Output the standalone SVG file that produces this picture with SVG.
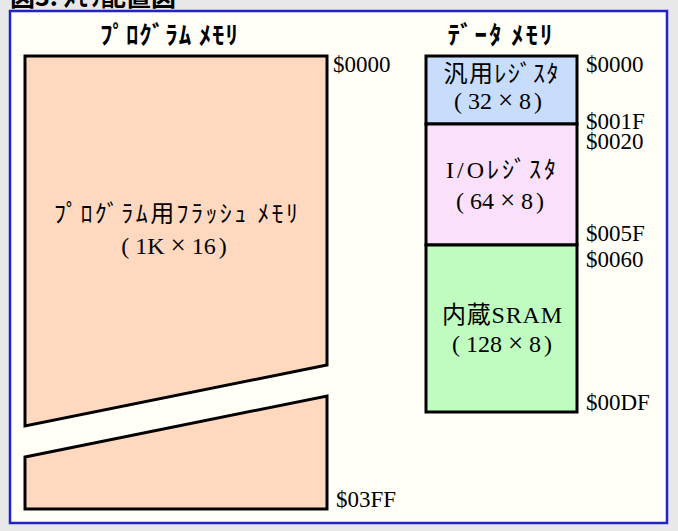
<svg xmlns="http://www.w3.org/2000/svg" width="678" height="531" viewBox="0 0 678 531">
<style>
.title{font-family:"Noto Sans CJK JP",sans-serif;font-weight:bold;font-size:25px;fill:#000}
.head{font-family:"Noto Sans CJK JP",sans-serif;font-weight:bold;font-size:25px;fill:#000;text-anchor:middle}
.lbl{font-family:"Liberation Serif","Noto Sans CJK JP",serif;font-size:24px;fill:#000;text-anchor:middle}
.x{font-size:27px}
.addr{font-family:"Liberation Serif",serif;font-size:23px;fill:#000}
.blk{stroke:#000;stroke-width:3;stroke-linejoin:miter}
</style>
<rect x="0" y="0" width="678" height="531" fill="#e8e8e8"/>
<text class="title" x="10" y="6">図3. ﾒﾓﾘ配置図</text>
<rect x="10" y="11" width="657" height="512" fill="#fffff8" stroke="#2222cc" stroke-width="2.5"/>

<text class="head" x="169" y="44" textLength="138">ﾌﾟﾛｸﾞﾗﾑ ﾒﾓﾘ</text>
<text class="head" x="500" y="44" textLength="105">ﾃﾞｰﾀ ﾒﾓﾘ</text>

<g id="program-flash">
<polygon class="blk" points="25,56 327,56 327,365 25,426" fill="#fed9bf"/>
<polygon class="blk" points="25,457 327,396 327,509 25,509" fill="#fed9bf"/>
<text class="lbl" x="176" y="222" textLength="244">ﾌﾟﾛｸﾞﾗﾑ用ﾌﾗｯｼｭ ﾒﾓﾘ</text>
<text class="lbl" x="174" y="254">(<tspan dx="6">1K</tspan><tspan class="x" dx="6">×</tspan><tspan dx="6">16</tspan><tspan dx="3">)</tspan></text>
</g>

<g id="gp-registers">
<rect class="blk" x="426" y="56" width="151" height="68" fill="#c8dcfc"/>
<text class="lbl" x="501" y="82" textLength="115">汎用ﾚｼﾞｽﾀ</text>
<text class="lbl" x="498" y="109">(<tspan dx="6">32</tspan><tspan class="x" dx="6">×</tspan><tspan dx="6">8</tspan><tspan dx="3">)</tspan></text>
</g>

<g id="io-registers">
<rect class="blk" x="426" y="124" width="151" height="121" fill="#fae0fa"/>
<text class="lbl" x="501" y="178" textLength="110">I/Oﾚｼﾞｽﾀ</text>
<text class="lbl" x="500" y="209">(<tspan dx="6">64</tspan><tspan class="x" dx="6">×</tspan><tspan dx="6">8</tspan><tspan dx="3">)</tspan></text>
</g>

<g id="sram">
<rect class="blk" x="426" y="245" width="151" height="167" fill="#c0fcc0"/>
<text class="lbl" x="502" y="323" textLength="120">内蔵SRAM</text>
<text class="lbl" x="502" y="352">(<tspan dx="6">128</tspan><tspan class="x" dx="6">×</tspan><tspan dx="6">8</tspan><tspan dx="3">)</tspan></text>
</g>

<g id="addresses">
<text class="addr" x="333" y="72">$0000</text>
<text class="addr" x="336" y="507">$03FF</text>
<text class="addr" x="586" y="72">$0000</text>
<text class="addr" x="586" y="129">$001F</text>
<text class="addr" x="586" y="149">$0020</text>
<text class="addr" x="586" y="241">$005F</text>
<text class="addr" x="586" y="267">$0060</text>
<text class="addr" x="586" y="410">$00DF</text>
</g>
<g id="connectors"/>
</svg>
